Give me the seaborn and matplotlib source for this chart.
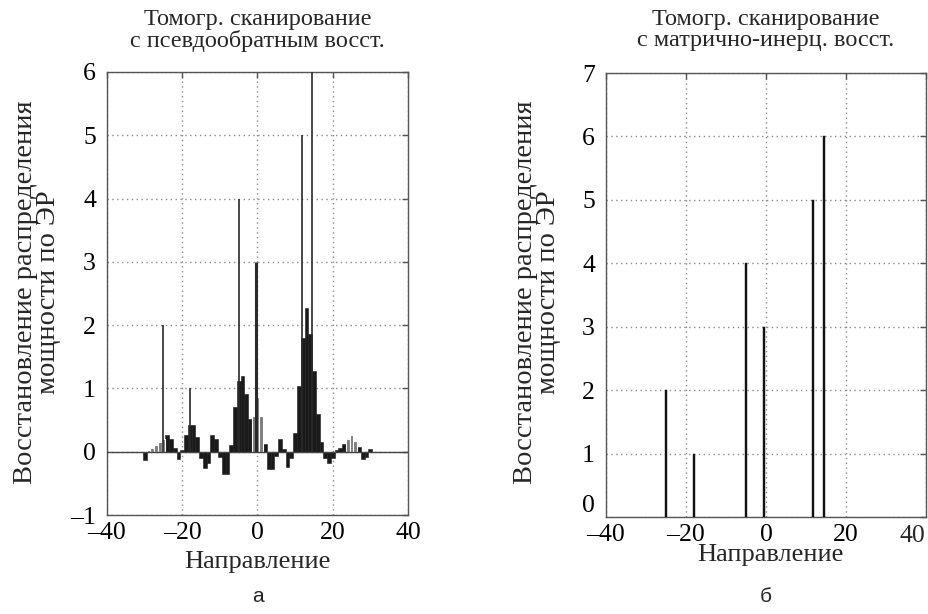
import numpy as np
import pandas as pd
import matplotlib
matplotlib.use("Agg")
import matplotlib.pyplot as plt
import seaborn as sns

# ---------------- data ----------------
direction = [-30, -29, -28, -27, -26, -25, -24, -23, -22, -21, -20,
             -19, -18, -17, -16, -15, -14, -13, -12, -11, -10,
             -9, -8, -7, -6, -5, -4, -3, -2, -1, 0,
             1, 2, 3, 4, 5, 6, 7, 8, 9, 10,
             11, 12, 13, 14, 15, 16, 17, 18, 19, 20,
             21, 22, 23, 24, 25, 26, 27, 28, 29, 30]
power_pinv = [-0.13, 0.02, 0.06, 0.10, 0.15, 0.20, 0.26, 0.20, 0.06, -0.11, 0.03,
              0.26, 0.42, 0.42, 0.23, -0.10, -0.25, -0.18, 0.26, 0.20, -0.09,
              -0.35, -0.35, 0.10, 0.71, 1.12, 1.20, 0.91, 0.52, 0.57, 0.86,
              0.57, 0.12, -0.27, -0.27, -0.06, 0.20, 0.05, -0.24, -0.10, 0.29,
              1.04, 1.80, 2.27, 1.86, 1.28, 0.60, 0.15, -0.10, -0.18, -0.10,
              0.03, 0.06, 0.12, 0.20, 0.26, 0.17, 0.07, -0.12, -0.08, 0.05]
bar_kind = ["d", "l", "l", "l", "l", "l", "d", "d", "d", "d", "d",
            "d", "d", "d", "d", "d", "d", "d", "d", "d", "d",
            "d", "d", "d", "d", "d", "d", "d", "d", "l", "l",
            "l", "d", "d", "d", "d", "d", "d", "d", "d", "d",
            "d", "d", "d", "d", "d", "d", "d", "d", "d", "d",
            "d", "d", "d", "l", "l", "l", "d", "d", "d", "d"]

src_dir = [-25, -18, -5, -0.5, 11.75, 14.5]
src_pow = [2, 1, 4, 3, 5, 6]

left_yticks = [-1, 0, 1, 2, 3, 4, 5, 6]
right_yticks = [0, 1, 2, 3, 4, 5, 6, 7]
xticks = [-40, -20, 0, 20, 40]

title_left = "Томогр. сканирование\nс псевдообратным восст."
title_right = "Томогр. сканирование\nс матрично-инерц. восст."
ylabel_text = "Восстановление распределения\nмощности по ЭР"
xlabel_text = "Направление"

# ---------------- style ----------------
sns.set_theme(style="white")
plt.rcParams["font.family"] = ["Liberation Serif", "DejaVu Serif"]

W, H = 929, 614
fig = plt.figure(figsize=(W / 100, H / 100), dpi=100)

axL = fig.add_axes([107 / W, 1 - 515 / H, 301 / W, 443 / H])
axR = fig.add_axes([606 / W, 1 - 517 / H, 320 / W, 444 / H])

df = pd.DataFrame({"dir": direction, "pow": power_pinv, "kind": bar_kind})

# left: pseudo-inverse reconstruction
sns.barplot(data=df, x="dir", y="pow", hue="kind", native_scale=True,
            palette={"d": "#1a1a1a", "l": "#7d7d7d"}, dodge=False,
            width=1.0, edgecolor="#1a1a1a", linewidth=0.4, legend=False,
            errorbar=None, ax=axL, zorder=3)
# lighter striped bars: white edges
for bar in axL.patches:
    fc = bar.get_facecolor()
    if fc[0] > 0.3:
        bar.set_edgecolor("white")
        bar.set_linewidth(0.8)
axL.vlines(src_dir, 0, src_pow, color="#2a2a2a",
           lw=[1.2, 1.2, 1.2, 2.2, 1.2, 1.2], zorder=4)
axL.axhline(0, color="#444444", lw=1.0, zorder=4)

# right: matrix-inertial reconstruction
dfr = pd.DataFrame({"dir": src_dir, "pow": src_pow})
sns.barplot(data=dfr, x="dir", y="pow", native_scale=True, color="#111111",
            width=0.7 / 2.75, errorbar=None, ax=axR, zorder=3,
            edgecolor="#111111", linewidth=0.3)

for ax, yt in ((axL, left_yticks), (axR, right_yticks)):
    ax.set_xlim(-40, 40)
    ax.set_ylim(yt[0], yt[-1])
    ax.set_xticks(xticks)
    ax.set_yticks(yt)
    ax.set_yticklabels([str(v).replace("-", "\u2013") for v in yt])
    ax.grid(True, linestyle=(0, (1, 2.5)), color="#8a8a8a", lw=1.0)
    ax.set_axisbelow(True)
    for s in ax.spines.values():
        s.set_visible(True)
        s.set_color("#555555")
        s.set_linewidth(1.0)
    ax.tick_params(direction="in", length=4, width=1, color="#555555",
                   top=True, right=True, labelsize=18.5,
                   labelcolor="black")
    ax.tick_params(axis="y", pad=8)
    ax.tick_params(axis="x", pad=5)
    ax.set_xlabel("")
    ax.set_ylabel("")

# the "0" label of the right panel sits slightly above the corner
axR.get_yticklabels()[0].set_verticalalignment("bottom")

xlabels = [str(v).replace("-", "\u2013") for v in xticks]
axL.set_xticklabels(xlabels)
# right panel: the last label ("40") is kept inside the figure edge
axR.set_xticklabels(xlabels[:-1] + [""])
fig.text(912 / W, 1 - 536 / H, xlabels[-1], ha="center", va="center",
         fontsize=18.5)

# titles
fig.text(257.5 / W, 1 - 30 / H, title_left, ha="center", va="center",
         fontsize=17.5, linespacing=1.0)
fig.text(766 / W, 1 - 30 / H, title_right, ha="center", va="center",
         fontsize=17.5, linespacing=1.0)

# y labels
fig.text(37 / W, 1 - 292 / H, ylabel_text, ha="center", va="center",
         rotation=90, fontsize=20.5, linespacing=0.92)
fig.text(537 / W, 1 - 292 / H, ylabel_text, ha="center", va="center",
         rotation=90, fontsize=20.5, linespacing=0.92)

# x labels
fig.text(257.5 / W, 1 - 562 / H, xlabel_text, ha="center", va="center",
         fontsize=19)
fig.text(770 / W, 1 - 555 / H, xlabel_text, ha="center", va="center",
         fontsize=19)

# panel letters
fig.text(258 / W, 1 - 597 / H, "а", ha="center", va="center", fontsize=15,
         family=["Liberation Sans", "DejaVu Sans"])
fig.text(766 / W, 1 - 597 / H, "б", ha="center", va="center", fontsize=15,
         family=["Liberation Sans", "DejaVu Sans"])

fig.savefig("out.png", dpi=100, facecolor="white")
